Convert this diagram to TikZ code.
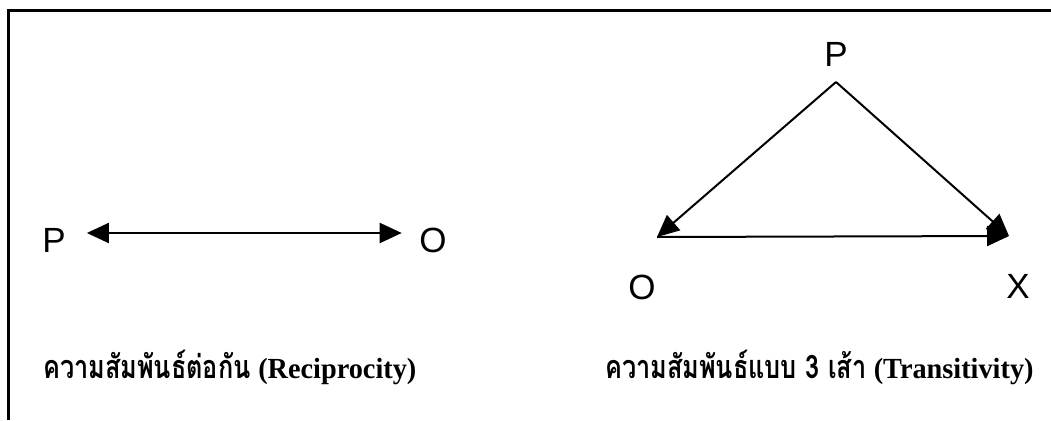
\documentclass[tikz,border=0pt]{standalone}
\usepackage{fontspec}
\setmainfont{Liberation Sans}
\newfontfamily\thaifont[Script=Thai, Scale=1.2, FakeStretch=0.78]{Loma}
\newfontfamily\capfont[Scale=1.08, FakeStretch=0.97]{Liberation Serif}
\usetikzlibrary{positioning, arrows.meta}

\begin{document}
\begin{tikzpicture}[
  x=1pt, y=-1pt,
  letter/.style={font=\fontsize{35}{35}\selectfont, inner sep=0pt, anchor=base},
  caption/.style={font=\fontsize{27}{27}\selectfont\bfseries, inner sep=0pt, anchor=base west},
  arr/.style={-{Triangle[length=22pt, width=20pt]}, line width=2pt},
  both/.style={{Triangle[length=22pt, width=20pt]}-{Triangle[length=22pt, width=20pt]}, line width=2.2pt},
  frame/.style={line width=3pt}
]
  \useasboundingbox (0,0) rectangle (1051,420);
  \draw[frame] (8,420) -- (8,11) -- (1051,11);

  % Left -- reciprocity
  \node[letter] (pL) at (54,252) {P};
  \node[letter] (oL) at (433,252) {O};
  \draw[both, shorten <=21pt, shorten >=17.5pt] ([yshift=19pt]pL.base east) -- ([yshift=19pt]oL.base west);
  \node[caption] (capL) at (43,378) {{\thaifont ความสัมพันธ์ต่อกัน} {\capfont (Reciprocity)}};

  % Right -- transitivity
  \coordinate (top) at (836,82);
  \coordinate (left) at (657,237);
  \coordinate (right) at (1009,236);
  \node[letter, above=15pt of top] (pR) {P};
  \node[letter, below=38pt of left, xshift=-15pt] (oR) {O};
  \node[letter, below=38pt of right, xshift=9pt] (xR) {X};
  \draw[arr] (top) -- (left);
  \draw[arr] (top) -- (right);
  \draw[arr] (left) -- (right);
  \node[caption] (capR) at (605,378) {{\thaifont ความสัมพันธ์แบบ 3 เส้า} {\capfont (Transitivity)}};
\end{tikzpicture}
\end{document}
